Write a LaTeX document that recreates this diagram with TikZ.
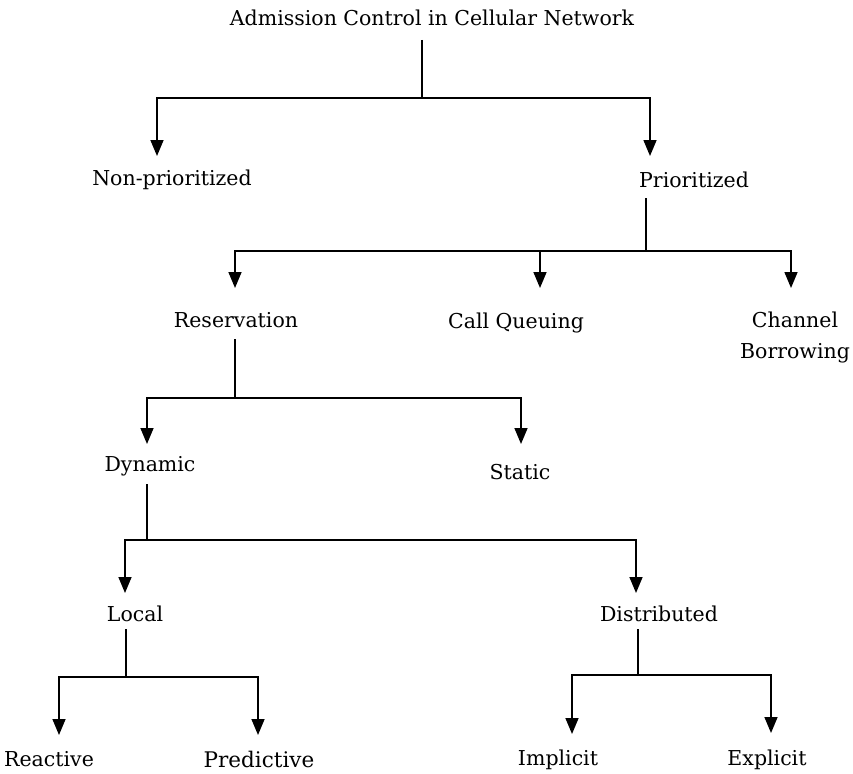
\documentclass[tikz,border=0pt]{standalone}
\usepackage{fontspec}
\setmainfont{DejaVu Serif}
\usetikzlibrary{arrows.meta}
\begin{document}
\begin{tikzpicture}[x=1pt,y=-1pt,
  lbl/.style={inner sep=0pt, font=\fontsize{20.5}{31}\selectfont, align=center},
  ln/.style={line width=1.6pt},
  arr/.style={ln, -{Triangle[width=13pt,length=16pt]}}]
\useasboundingbox (0,0) rectangle (853,773);

% labels
\node[lbl] (root) at (432,18) {Admission Control in Cellular Network};
\node[lbl] (np)   at (172,180) {Non-prioritized};
\node[lbl] (pr)   at (694,180) {Prioritized};
\node[lbl] (res)  at (236,320) {Reservation};
\node[lbl] (cq)   at (516,323) {Call Queuing};
\node[lbl] (cb)   at (795,337) {Channel\\Borrowing};
\node[lbl] (dyn)  at (150,466) {Dynamic};
\node[lbl] (st)   at (520,472) {Static};
\node[lbl] (loc)  at (135,614) {Local};
\node[lbl] (dis)  at (659,614) {Distributed};
\node[lbl] (rea)  at (49,759) {Reactive};
\node[lbl, font=\fontsize{21.5}{25}\selectfont] (pre) at (259,759) {Predictive};
\node[lbl] (imp)  at (558,760) {Implicit};
\node[lbl] (exp)  at (767,760) {Explicit};

% junctions, stem tops and arrow tips
\coordinate (s0) at (422,40);  \coordinate (j0) at (422,98);
\coordinate (t0a) at (157,156); \coordinate (t0b) at (650,156);
\coordinate (s1) at (646,198); \coordinate (j1) at (646,251);
\coordinate (t1a) at (235,288); \coordinate (t1b) at (540,288); \coordinate (t1c) at (791,288);
\coordinate (s2) at (235,339); \coordinate (j2) at (235,398);
\coordinate (t2a) at (147,444); \coordinate (t2b) at (521,444);
\coordinate (s3) at (147,484); \coordinate (j3) at (147,540);
\coordinate (t3a) at (125,593); \coordinate (t3b) at (636,593);
\coordinate (s4) at (126,629); \coordinate (j4) at (126,677);
\coordinate (t4a) at (59,735);  \coordinate (t4b) at (258,735);
\coordinate (s5) at (638,629); \coordinate (j5) at (638,675);
\coordinate (t5a) at (572,734); \coordinate (t5b) at (771,733);

% Admission Control -> Non-prioritized / Prioritized
\draw[ln] (s0) -- (j0);
\draw[arr] (j0) -| (t0a);
\draw[arr] (j0) -| (t0b);

% Prioritized -> Reservation / Call Queuing / Channel Borrowing
\draw[ln] (s1) -- (j1);
\draw[arr] (j1) -| (t1a);
\draw[arr] (j1) -| (t1b);
\draw[arr] (j1) -| (t1c);

% Reservation -> Dynamic / Static
\draw[ln] (s2) -- (j2);
\draw[arr] (j2) -| (t2a);
\draw[arr] (j2) -| (t2b);

% Dynamic -> Local / Distributed
\draw[ln] (s3) -- (j3);
\draw[arr] (j3) -| (t3a);
\draw[arr] (j3) -| (t3b);

% Local -> Reactive / Predictive
\draw[ln] (s4) -- (j4);
\draw[arr] (j4) -| (t4a);
\draw[arr] (j4) -| (t4b);

% Distributed -> Implicit / Explicit
\draw[ln] (s5) -- (j5);
\draw[arr] (j5) -| (t5a);
\draw[arr] (j5) -| (t5b);
\end{tikzpicture}
\end{document}
